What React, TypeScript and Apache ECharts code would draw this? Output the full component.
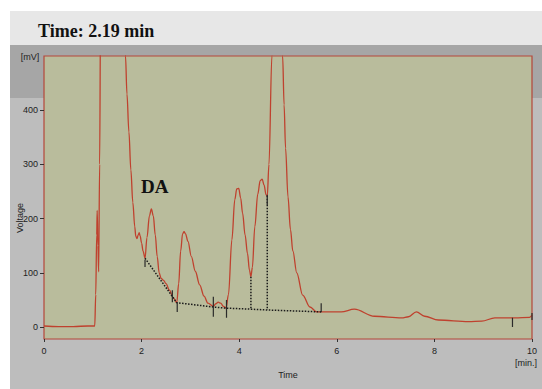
import React, { useEffect, useRef } from "react";
import * as echarts from "echarts";

// Chromatogram trace (time in min, voltage in mV)
const traceTime = [
  0, 0.3, 0.6, 0.9, 1.04, 1.06, 1.08, 1.09, 1.105, 1.12, 1.14, 1.16, 1.3, 1.5, 1.62,
  1.67, 1.7, 1.74, 1.78, 1.82, 1.86, 1.88, 1.905, 1.93, 1.95, 1.97, 2.0, 2.03, 2.07,
  2.11, 2.16, 2.2, 2.24, 2.28, 2.32, 2.36, 2.4, 2.45, 2.5, 2.57, 2.65, 2.72,
  2.76, 2.8, 2.84, 2.87, 2.9, 2.95, 3.02, 3.1, 3.19, 3.28, 3.36, 3.47, 3.52, 3.57, 3.62, 3.68, 3.73,
  3.78, 3.85, 3.91, 3.95, 3.99, 4.03, 4.07, 4.12, 4.17, 4.21, 4.24, 4.27, 4.32, 4.38, 4.43, 4.47,
  4.51, 4.55, 4.575, 4.61, 4.67, 4.78, 4.89,
  4.92, 4.95, 5.0, 5.05, 5.1, 5.18, 5.3, 5.45, 5.59, 5.74,
  6.09, 6.36, 6.77, 7.33, 7.47, 7.63, 7.8, 8.08, 8.7, 8.97, 9.24, 9.65, 9.95, 10,
];
const traceVoltage = [
  2, 1, 1, 2, 2, 60, 170, 215, 150, 102, 300, 600, 1500, 1500, 700,
  500, 430, 360, 290, 230, 185, 168, 163, 170, 174, 168, 155, 140, 127,
  165, 205, 218, 205, 170, 130, 100, 90, 86, 80, 68, 54, 45,
  80, 140, 172, 176, 172, 158, 130, 103, 78, 57, 44, 38, 43, 46, 44, 38, 35,
  60, 161, 235, 255, 256, 238, 210, 170, 136, 105, 93, 110, 185, 245, 270, 273,
  262, 244, 242, 300, 500, 900, 500,
  410, 330, 240, 180, 140, 100, 59, 37, 28, 28,
  28, 33, 20, 17, 19, 28, 20, 13, 10, 11, 17, 17, 18, 22,
];

// Integration baseline (dotted)
const baseTime = [2.07, 2.72, 3.47, 3.73, 4.24, 4.575, 5.68];
const baseVoltage = [127, 45, 37, 35, 33, 31.5, 28];

// Vertical drop lines (dotted)
const dropTime = [4.24, 4.575];
const dropTop = [93, 242];
const dropBottom = [33, 31.5];

// Peak start/end markers
const markTime = [2.07, 2.63, 2.73, 3.47, 3.74, 4.575, 5.68, 9.6, 10];
const markLow = [111, 46, 28, 19, 17, 225, 28, 0, 13];
const markHigh = [124, 68, 46, 56, 50, 244, 44, 17, 26];

const yTicks = [0, 100, 200, 300, 400];
const xTicks = [0, 2, 4, 6, 8, 10];

export default function App() {
  const ref = useRef<HTMLDivElement>(null);
  useEffect(() => {
    if (!ref.current) return;
    const chart = echarts.init(ref.current, null, { renderer: "svg" });
    const series: any[] = [
      {
        type: "line",
        data: traceTime.map((t, i) => [t, traceVoltage[i]]),
        showSymbol: false,
        smooth: 0.35,
        smoothMonotone: "x",
        clip: true,
        lineStyle: { color: "#bf412e", width: 1.3 },
        z: 3,
      },
      {
        type: "line",
        data: baseTime.map((t, i) => [t, baseVoltage[i]]),
        showSymbol: false,
        lineStyle: { color: "#1a1a1a", width: 1.5, type: "dotted" },
        z: 4,
      },
    ];
    dropTime.forEach((t, i) => {
      series.push({
        type: "line",
        data: [
          [t, dropTop[i]],
          [t, dropBottom[i]],
        ],
        showSymbol: false,
        lineStyle: { color: "#1a1a1a", width: 1.5, type: "dotted" },
        z: 4,
      });
    });
    markTime.forEach((t, i) => {
      series.push({
        type: "line",
        data: [
          [t, markLow[i]],
          [t, markHigh[i]],
        ],
        showSymbol: false,
        lineStyle: { color: "#2a2a2a", width: 1.2 },
        z: 5,
      });
    });

    chart.setOption({
      animation: false,
      backgroundColor: "#ffffff",
      grid: {
        left: 44,
        right: 10,
        top: 56,
        bottom: 50,
        show: true,
        backgroundColor: "#b9bc9c",
        borderColor: "#b5473a",
        borderWidth: 1.2,
      },
      xAxis: {
        type: "value",
        min: 0,
        max: 10,
        interval: 2,
        name: "Time",
        nameLocation: "middle",
        nameGap: 31,
        nameTextStyle: { fontFamily: "Liberation Sans", fontSize: 9, color: "#222" },
        axisLine: { show: false, onZero: false },
        splitLine: { show: false },
        axisTick: { show: true, length: 3, lineStyle: { color: "#333" }, customValues: xTicks },
        axisLabel: {
          fontFamily: "Liberation Sans",
          fontSize: 9,
          color: "#222",
          margin: 7,
          customValues: xTicks,
        },
      },
      yAxis: {
        type: "value",
        min: -22,
        max: 500,
        axisLine: { show: false, onZero: false },
        splitLine: { show: false },
        axisTick: { show: true, length: 4, lineStyle: { color: "#333" }, customValues: yTicks },
        axisLabel: {
          fontFamily: "Liberation Sans",
          fontSize: 9,
          color: "#222",
          margin: 6,
          customValues: yTicks,
        },
      },
      graphic: [
        { type: "rect", z: -100, shape: { x: 10, y: 11, width: 532, height: 34 }, style: { fill: "#e7e7e7" } },
        { type: "rect", z: -100, shape: { x: 10, y: 45, width: 532, height: 344 }, style: { fill: "#bdbdbd" } },
        { type: "rect", z: -99, shape: { x: 10, y: 45, width: 532, height: 53 }, style: { fill: "#a6a6a6" } },
        {
          type: "text",
          x: 38,
          y: 31,
          style: {
            text: "Time: 2.19 min",
            font: "bold 18px 'Liberation Serif'",
            fill: "#111",
            verticalAlign: "middle",
          },
        },
        {
          type: "text",
          x: 141,
          y: 186,
          z: 10,
          style: {
            text: "DA",
            font: "bold 19px 'Liberation Serif'",
            fill: "#111",
            verticalAlign: "middle",
          },
        },
        {
          type: "text",
          x: 20,
          y: 218,
          rotation: Math.PI / 2,
          style: {
            text: "Voltage",
            font: "9px 'Liberation Sans'",
            fill: "#222",
            align: "center",
            verticalAlign: "middle",
          },
        },
        {
          type: "text",
          x: 30,
          y: 57,
          style: {
            text: "[mV]",
            font: "9px 'Liberation Sans'",
            fill: "#222",
            align: "center",
            verticalAlign: "middle",
          },
        },
        {
          type: "text",
          x: 526,
          y: 363,
          style: {
            text: "[min.]",
            font: "9px 'Liberation Sans'",
            fill: "#222",
            align: "center",
            verticalAlign: "middle",
          },
        },
      ],
      series,
    });
    return () => chart.dispose();
  }, []);
  return (
    <div
      ref={ref}
      style={{ position: "fixed", left: 0, top: 0, width: 542, height: 389 }}
    />
  );
}
